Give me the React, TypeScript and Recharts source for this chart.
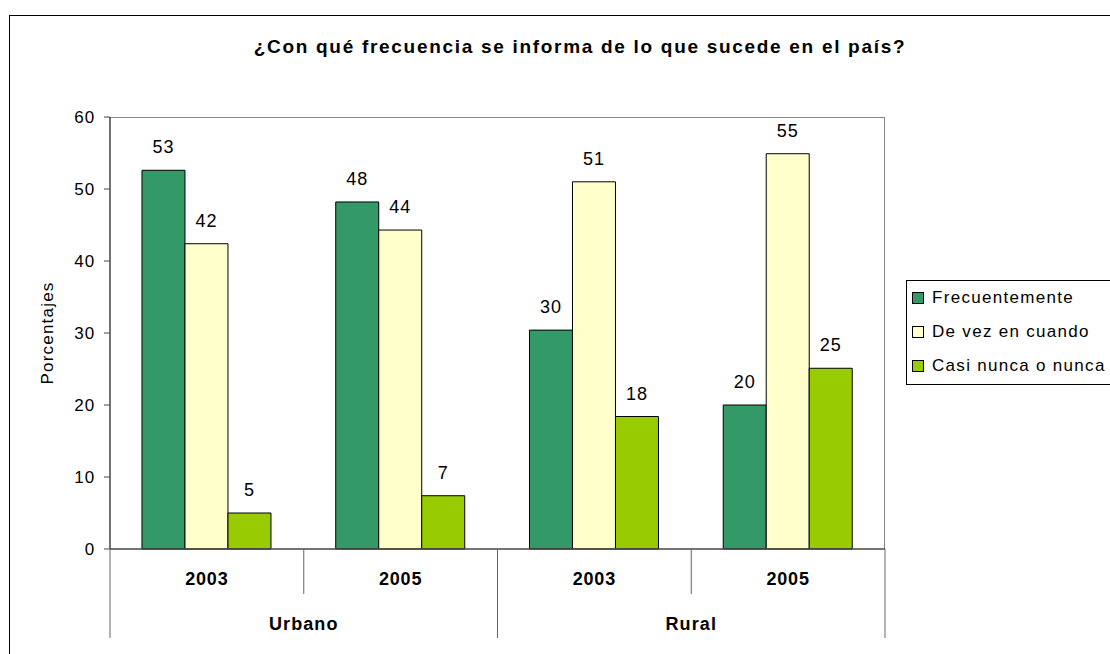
import { Bar, BarChart, LabelList, XAxis, YAxis } from 'recharts';

const years = ['2003', '2005', '2003', '2005'];
const areas = ['Urbano', 'Urbano', 'Rural', 'Rural'];
const frecuentemente = [52.6, 48.2, 30.4, 20.0];
const deVezEnCuando = [42.4, 44.3, 51.0, 54.9];
const casiNunca = [5.0, 7.4, 18.4, 25.1];
const yTicks = [0, 10, 20, 30, 40, 50, 60];

const SERIES = [
  { key: 'frec', name: 'Frecuentemente', color: '#339966' },
  { key: 'vez', name: 'De vez en cuando', color: '#FFFFCC' },
  { key: 'casi', name: 'Casi nunca o nunca', color: '#99CC00' },
];

const data = years.map((year, i) => ({
  key: `${areas[i]}-${year}-${i}`,
  year,
  area: areas[i],
  frec: frecuentemente[i],
  vez: deVezEnCuando[i],
  casi: casiNunca[i],
}));

const W = 1110;
const H = 654;
const PLOT_LEFT = 110;
const PLOT_TOP = 117;
const PLOT_RIGHT = 885;
const PLOT_BOTTOM = 549;
const BAND = (PLOT_RIGHT - PLOT_LEFT) / data.length;
const FONT = '"Liberation Sans", Arial, sans-serif';

function CategoryTick(props: any) {
  const { x, payload } = props;
  const i = payload.index;
  const row = data[i];
  const left = x - BAND / 2;
  const firstOfGroup = i === 0 || data[i - 1].area !== row.area;
  const last = i === data.length - 1;
  let groupCenter = 0;
  if (firstOfGroup) {
    const n = data.filter((d) => d.area === row.area).length;
    groupCenter = left + (n * BAND) / 2;
  }
  return (
    <g>
      <line x1={left} x2={left} y1={PLOT_BOTTOM} y2={firstOfGroup ? 638 : 594} stroke="#666" />
      {last && <line x1={x + BAND / 2} x2={x + BAND / 2} y1={PLOT_BOTTOM} y2={638} stroke="#666" />}
      <text x={x} y={585} textAnchor="middle" fontSize={18} fontWeight="bold" fill="#000" letterSpacing={0.8}>
        {row.year}
      </text>
      {firstOfGroup && (
        <text x={groupCenter} y={630} textAnchor="middle" fontSize={18} fontWeight="bold" fill="#000" letterSpacing={1.1}>
          {row.area}
        </text>
      )}
    </g>
  );
}

function LegendBox() {
  return (
    <div
      style={{
        position: 'absolute',
        left: 906,
        top: 280,
        border: '1px solid #000',
        width: 230,
        height: 105,
        background: '#fff',
        boxSizing: 'border-box',
        padding: '0 0 0 5px',
        fontFamily: FONT,
        fontSize: 17,
        letterSpacing: 1.3,
      }}
    >
      {SERIES.map((s) => (
        <div key={s.key} style={{ display: 'flex', alignItems: 'center', height: 34 }}>
          <span
            style={{
              width: 10,
              height: 10,
              background: s.color,
              border: '1px solid #000',
              marginRight: 8,
              display: 'inline-block',
            }}
          />
          <span>{s.name}</span>
        </div>
      ))}
    </div>
  );
}

export default function App() {
  return (
    <div style={{ position: 'absolute', left: 0, top: 0, width: W, height: H, overflow: 'hidden', background: '#fff', fontFamily: FONT }}>
      <div style={{ position: 'absolute', left: 9, top: 15, width: 1200, height: 700, border: '1.5px solid #000' }} />
      <div
        style={{
          position: 'absolute',
          left: PLOT_LEFT,
          top: PLOT_TOP,
          width: PLOT_RIGHT - PLOT_LEFT,
          height: PLOT_BOTTOM - PLOT_TOP,
          borderTop: '1.5px solid #888',
          borderRight: '1.5px solid #888',
          boxSizing: 'border-box',
        }}
      />
      <div
        style={{
          position: 'absolute',
          left: 0,
          width: 1160,
          top: 36,
          textAlign: 'center',
          fontSize: 19,
          fontWeight: 'bold',
          letterSpacing: 1.7,
        }}
      >
        ¿Con qué frecuencia se informa de lo que sucede en el país?
      </div>
      <div style={{ position: 'absolute', left: 0, top: 0 }}>
        <BarChart
          width={W}
          height={H}
          data={data}
          margin={{ top: PLOT_TOP, right: W - PLOT_RIGHT, bottom: 15, left: PLOT_LEFT - 60 }}
          barCategoryGap="16.5%"
          barGap={0}
          style={{ fontFamily: FONT }}
        >
          <XAxis
            dataKey="key"
            height={H - PLOT_BOTTOM - 15}
            axisLine={{ stroke: '#444', strokeWidth: 1.5 }}
            tickLine={false}
            tick={<CategoryTick />}
            interval={0}
          />
          <YAxis
            width={60}
            domain={[0, 60]}
            ticks={yTicks}
            axisLine={{ stroke: '#444', strokeWidth: 1.5 }}
            tickLine={{ stroke: '#444' }}
            tickSize={6}
            tickMargin={9}
            tick={{ fill: '#000', fontSize: 17, letterSpacing: 0.9 }}
            label={() => (
              <text
                x={47}
                y={(PLOT_TOP + PLOT_BOTTOM) / 2}
                transform={`rotate(-90 47 ${(PLOT_TOP + PLOT_BOTTOM) / 2})`}
                textAnchor="middle"
                dominantBaseline="central"
                fontSize={17}
                letterSpacing={1.2}
                fill="#000"
              >
                Porcentajes
              </text>
            )}
          />
          {SERIES.map((s) => (
            <Bar key={s.key} dataKey={s.key} name={s.name} fill={s.color} stroke="#000" strokeWidth={1} isAnimationActive={false}>
              <LabelList
                dataKey={s.key}
                position="top"
                offset={17}
                formatter={(v: any) => Math.round(Number(v))}
                style={{ fill: '#000', fontSize: 18, letterSpacing: 1 }}
              />
            </Bar>
          ))}
        </BarChart>
      </div>
      <LegendBox />
    </div>
  );
}
